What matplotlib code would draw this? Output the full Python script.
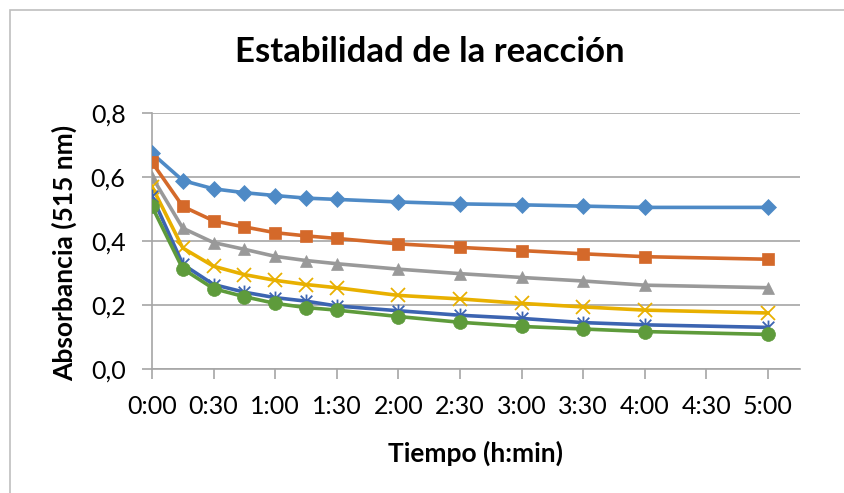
import numpy as np
import matplotlib
matplotlib.use("Agg")
import matplotlib.pyplot as plt
import matplotlib.patches as mpatches
from matplotlib.path import Path
from matplotlib.ticker import FuncFormatter, MultipleLocator

# datos (tiempo en minutos)
tiempo = [0, 15, 30, 45, 60, 75, 90, 120, 150, 180, 210, 240, 300]
serie1 = [0.674, 0.589, 0.563, 0.551, 0.542, 0.534, 0.530, 0.522, 0.516, 0.513, 0.509, 0.505, 0.505]
serie2 = [0.646, 0.508, 0.463, 0.444, 0.426, 0.416, 0.408, 0.391, 0.380, 0.370, 0.360, 0.351, 0.343]
serie3 = [0.601, 0.440, 0.395, 0.374, 0.352, 0.339, 0.329, 0.312, 0.298, 0.286, 0.275, 0.262, 0.254]
serie4 = [0.570, 0.378, 0.321, 0.295, 0.277, 0.264, 0.254, 0.230, 0.219, 0.205, 0.194, 0.184, 0.175]
serie5 = [0.540, 0.327, 0.264, 0.240, 0.223, 0.212, 0.197, 0.182, 0.168, 0.158, 0.145, 0.138, 0.130]
serie6 = [0.508, 0.313, 0.251, 0.226, 0.205, 0.192, 0.184, 0.164, 0.146, 0.133, 0.125, 0.117, 0.108]

# marcador estrella estilo Excel (x con linea vertical)
estrella = Path([(-1, -1), (1, 1), (-1, 1), (1, -1), (0, -1.2), (0, 1.2)],
                [Path.MOVETO, Path.LINETO, Path.MOVETO, Path.LINETO, Path.MOVETO, Path.LINETO])

series = [serie1, serie2, serie3, serie4, serie5, serie6]
colores = ['#4E8AC6', '#D4692A', '#999999', '#E8B000', '#3C64B1', '#5E9B3B']
marcadores = ['D', 's', '^', 'x', estrella, 'o']
tamanos = [8, 9, 9, 10, 10, 10]

plt.rcParams['font.family'] = ['Lato', 'DejaVu Sans']

fig = plt.figure(figsize=(8.45, 4.93), dpi=100)
ax = fig.add_axes([152/845, 1-369/493, (800-152)/845, (369-113)/493])

for i, (s, c, m, ms) in enumerate(zip(series, colores, marcadores, tamanos)):
    lineal = i in (3, 4)
    ax.plot(tiempo, s, color=c, lw=2.6, marker=m, ms=ms, mew=1.3 if lineal else 0.5,
            mec=c, mfc='none' if lineal else c, zorder=3)

ax.set_xlim(0, 315.6)
ax.set_ylim(0, 0.8)
ax.xaxis.set_major_locator(MultipleLocator(30))
ax.yaxis.set_major_locator(MultipleLocator(0.2))
ax.xaxis.set_major_formatter(FuncFormatter(lambda v, p: f'{int(v)//60}:{int(v)%60:02d}'))
ax.yaxis.set_major_formatter(FuncFormatter(lambda v, p: f'{v:.1f}'.replace('.', ',')))

ax.grid(axis='y', color='#A6A6A6', lw=1.2)
ax.set_axisbelow(True)
for lado in ['top', 'right']:
    ax.spines[lado].set_visible(False)
for lado in ['left', 'bottom']:
    ax.spines[lado].set_color('#A6A6A6')
    ax.spines[lado].set_linewidth(1.2)
ax.tick_params(axis='both', colors='#A6A6A6', length=7, width=1.2, labelcolor='black', labelsize=18)
ax.tick_params(axis='y', pad=12)
ax.tick_params(axis='x', pad=12)

ax.set_xlabel('Tiempo (h:min)', fontsize=19, fontweight='bold', labelpad=16)
fig.text(64/845, 1-253/493, 'Absorbancia (515 nm)', rotation=90, fontsize=19,
         fontweight='bold', ha='center', va='center')
fig.text(430/845, 1-52/493, 'Estabilidad de la reacción', fontsize=25, fontweight='bold',
         ha='center', va='center')

# marco del grafico
fig.patches.append(mpatches.Rectangle((10/845, -0.1), 1.2, 1 - 10/493 + 0.1,
                                      transform=fig.transFigure, fill=False,
                                      edgecolor='#BFBFBF', lw=1.2))

fig.savefig('out.png', dpi=100)
